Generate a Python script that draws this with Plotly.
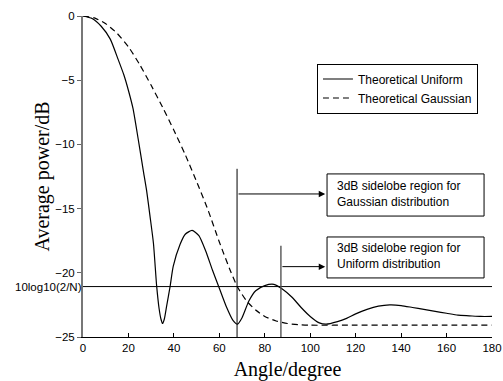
import numpy as np
import plotly.graph_objects as go

# ---- data ----
uni_angle = [0, 4, 8, 12, 15.5, 18, 20, 22, 24.3, 26.5, 28, 29.5, 31, 32.4, 33.5, 34.3, 35,
             35.8, 36.8, 38.3, 39.7, 42.7, 45, 48, 51, 54, 57, 60, 63, 66, 68, 70, 73, 76, 80,
             84, 88, 92, 96, 100, 104, 107, 112, 116, 120, 125, 130, 135, 140, 145, 150, 155,
             160, 165, 170, 175, 180]
uni_db = [0, -0.2, -0.8, -1.8, -3.4, -4.6, -5.8, -7.2, -9.6, -12.0, -13.6, -15.6, -17.7, -21.0,
          -22.8, -23.6, -23.95, -23.6, -22.6, -21.1, -19.5, -17.8, -17.0, -16.7, -17.1, -18.3,
          -19.8, -21.2, -22.6, -23.7, -24.0, -23.5, -22.2, -21.4, -21.0, -20.9, -21.3, -21.9,
          -22.7, -23.4, -23.9, -24.0, -23.8, -23.55, -23.2, -22.85, -22.6, -22.5, -22.55, -22.7,
          -22.85, -23.0, -23.15, -23.3, -23.35, -23.4, -23.4]

gau_angle = [0, 5, 10, 15, 20, 25, 30, 35, 40, 45, 50, 55, 60, 65, 68, 72, 76, 80, 85, 90, 95,
             100, 120, 140, 160, 180]
gau_db = [0, -0.15, -0.6, -1.35, -2.4, -3.8, -5.4, -7.1, -8.9, -10.8, -12.9, -15.1, -17.6, -19.9,
          -21.1, -22.2, -22.9, -23.4, -23.75, -23.95, -24.05, -24.08, -24.08, -24.08, -24.08, -24.08]

N = 256
threshold = 10 * np.log10(2 / N)
region_angle = [67.8, 87.1]          # start of 3dB sidelobe regions (Gaussian, Uniform)
region_top = [-11.9, -17.9]
arrow_y = [-13.86, -19.52]
box_x = [107.4, 176.5]
box_top = [-12.3, -17.21]
box_bottom = [-15.58, -20.4]
text_y = [-13.9, -18.69]
box_text = ["3dB sidelobe region for<br>Gaussian distribution",
            "3dB sidelobe region for<br>Uniform distribution"]

x_ticks = list(range(0, 181, 20))
y_ticks = list(range(-25, 1, 5))

SANS = "Liberation Sans, Arial, sans-serif"
SERIF = "Liberation Serif, Times New Roman, serif"

fig = go.Figure()
fig.add_trace(go.Scatter(x=uni_angle, y=uni_db, mode="lines", name="Theoretical Uniform",
                         line=dict(color="black", width=1.2, shape="spline", smoothing=0.6)))
fig.add_trace(go.Scatter(x=gau_angle, y=gau_db, mode="lines", name="Theoretical Gaussian",
                         line=dict(color="black", width=1.2, dash="6px,4px", shape="spline",
                                   smoothing=0.6)))

# threshold line
fig.add_shape(type="line", xref="x", yref="y", x0=0, x1=180, y0=threshold, y1=threshold,
              line=dict(color="black", width=1))
# vertical region markers
colors = ["black", "#555555"]
widths = [1, 1.4]
for xa, top, c, w in zip(region_angle, region_top, colors, widths):
    fig.add_shape(type="line", xref="x", yref="y", x0=xa, x1=xa, y0=-25, y1=top,
                  line=dict(color=c, width=w))
# text boxes
for t, b in zip(box_top, box_bottom):
    fig.add_shape(type="rect", xref="x", yref="y", x0=box_x[0], x1=box_x[1], y0=b, y1=t,
                  line=dict(color="black", width=1), fillcolor="white")

annotations = []
for xa, ay, ty, txt in zip(region_angle, arrow_y, text_y, box_text):
    annotations.append(dict(x=106.6, y=ay, ax=xa, ay=ay, xref="x", yref="y", axref="x", ayref="y",
                            showarrow=True, arrowhead=2, arrowsize=1.3, arrowwidth=1,
                            arrowcolor="black", text=""))
    annotations.append(dict(x=box_x[0] + 3.5, y=ty, xref="x", yref="y", xanchor="left",
                            yanchor="middle", text=txt, showarrow=False, align="left",
                            font=dict(family=SANS, size=12, color="black")))
annotations.append(dict(x=0, y=threshold, xref="paper", yref="y", xanchor="right",
                        yanchor="middle", text="10log10(2/N)", showarrow=False, xshift=1,
                        font=dict(family=SANS, size=11.5, color="black")))

fig.update_layout(
    width=503, height=381,
    margin=dict(l=83, r=11, t=16, b=44, autoexpand=False),
    paper_bgcolor="white", plot_bgcolor="white",
    showlegend=True,
    legend=dict(x=0.572, y=0.852, xanchor="left", yanchor="top", bordercolor="black",
                borderwidth=1, bgcolor="white", font=dict(family=SANS, size=12, color="black"),
                tracegroupgap=0, itemwidth=30),
    annotations=annotations,
    xaxis=dict(range=[0, 180], tickvals=x_ticks, ticks="inside", ticklen=4, tickcolor="black",
               showline=True, linecolor="black", linewidth=1.3, showgrid=False, zeroline=False,
               automargin=False,
               tickfont=dict(family=SANS, size=11.5, color="black"),
               title=dict(text="Angle/degree", font=dict(family=SERIF, size=20, color="black"),
                          standoff=11)),
    yaxis=dict(range=[-25, 0], tickvals=y_ticks, ticks="outside", ticklen=4, tickcolor="#666666",
               showline=True, linecolor="#777777", linewidth=2, showgrid=False, zeroline=False,
               automargin=False,
               tickfont=dict(family=SANS, size=11.5, color="black"),
               title=dict(text="Average power/dB", font=dict(family=SERIF, size=20, color="black"),
                          standoff=0)),
)

fig.write_html("out.html")
